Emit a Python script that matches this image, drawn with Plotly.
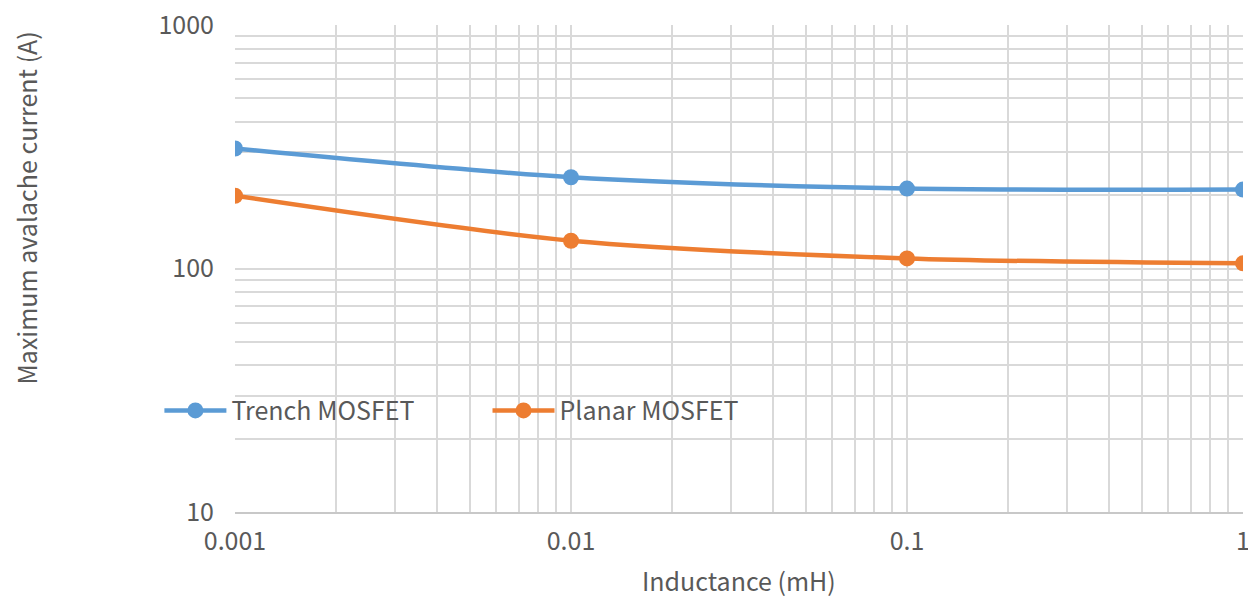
import plotly.graph_objects as go

inductance = [0.001, 0.01, 0.1, 1]
trench = [311, 237, 213, 211]
planar = [199, 130, 110, 105]
x_ticks = [0.001, 0.01, 0.1, 1]
x_tick_labels = ["0.001", "0.01", "0.1", "1"]
y_ticks = [10, 100, 1000]
y_tick_labels = ["10", "100", "1000"]

FONT = "Noto Sans CJK SC"
GRAY = "#595959"
GRID = "#d9d9d9"

minor_x = [m * 10 ** e for e in (-3, -2, -1) for m in range(2, 10)]
minor_y = [m * 10 ** e for e in (1, 2) for m in range(2, 10)]

fig = go.Figure()
fig.add_trace(go.Scatter(x=inductance, y=trench, name="Trench MOSFET", mode="lines+markers",
                         line=dict(color="#5B9BD5", width=4.5, shape="spline", smoothing=0.8),
                         marker=dict(size=16, color="#5B9BD5"), legend="legend2", showlegend=True))
fig.add_trace(go.Scatter(x=inductance, y=planar, name="Planar MOSFET", mode="lines+markers",
                         line=dict(color="#ED7D31", width=4.5, shape="spline", smoothing=0.8),
                         marker=dict(size=16, color="#ED7D31"), legend="legend3", showlegend=True))

legend_common = dict(orientation="h", xanchor="left", y=0.208, yanchor="middle",
                     bgcolor="rgba(0,0,0,0)", font=dict(size=25, color=GRAY, family=FONT),
                     itemwidth=62, visible=True)

# the page body has an 8px margin, so the figure is shrunk by 8px on the left/top
fig.update_layout(
    width=1248, height=590,
    showlegend=True,
    margin=dict(l=227, r=13, t=17, b=86, autoexpand=False),
    paper_bgcolor="white", plot_bgcolor="white",
    font=dict(family=FONT, color=GRAY, size=25),
    legend2=dict(x=-0.075, **legend_common),
    legend3=dict(x=0.2505, **legend_common),
    xaxis=dict(type="log", range=[-3, 0], tickvals=x_ticks, ticktext=x_tick_labels,
               showgrid=True, gridcolor=GRID, gridwidth=2, zeroline=False,
               showline=True, linecolor="#c8c8c8", linewidth=2, ticks="",
               ticklabelstandoff=6, automargin=False, ticklabeloverflow="allow",
               tickfont=dict(size=25, color=GRAY, family=FONT),
               minor=dict(tickvals=minor_x, showgrid=True, gridcolor=GRID, gridwidth=2, ticks="")),
    yaxis=dict(type="log", range=[1, 3], tickvals=y_ticks, ticktext=y_tick_labels,
               showgrid=True, gridcolor=GRID, gridwidth=2, zeroline=False,
               showline=False, ticks="", ticklabelstandoff=20, automargin=False,
               ticklabeloverflow="allow",
               tickfont=dict(size=25, color=GRAY, family=FONT),
               minor=dict(tickvals=minor_y, showgrid=True, gridcolor=GRID, gridwidth=2, ticks="")),
    annotations=[
        dict(text="Inductance (mH)", xref="paper", yref="paper", x=0.5, y=0,
             xanchor="center", yanchor="middle", yshift=-68, showarrow=False,
             font=dict(size=25, color=GRAY, family=FONT)),
        dict(text="Maximum avalache current (A)", xref="paper", yref="paper", x=0, y=0.5,
             xanchor="center", yanchor="middle", xshift=-210, yshift=60, textangle=-90,
             showarrow=False, font=dict(size=25, color=GRAY, family=FONT)),
    ],
)

fig.write_html("out.html")
